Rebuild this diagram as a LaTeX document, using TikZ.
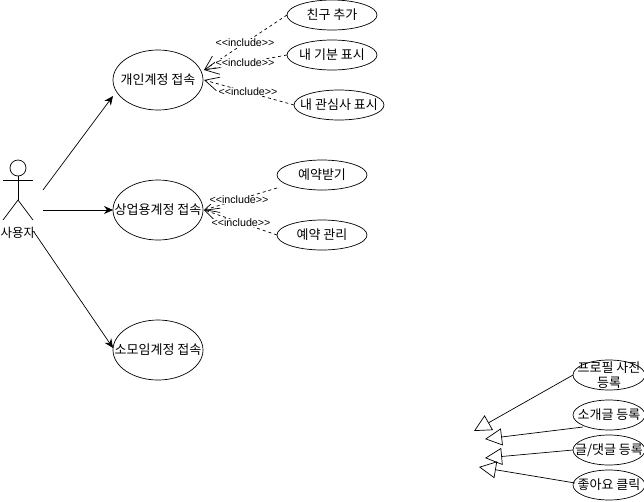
\documentclass[tikz,border=0pt]{standalone}
\usepackage{fontspec}
\setmainfont{Noto Sans CJK KR}
\newfontfamily\latinfont{Liberation Sans}
\usetikzlibrary{arrows.meta, positioning, shapes.geometric}

\begin{document}
\begin{tikzpicture}[x=1pt, y=-1pt, line width=0.7pt,
    usecase/.style={draw, ellipse, minimum width=90pt, minimum height=30pt, inner sep=0pt, outer sep=0pt},
    bigcase/.style={usecase, minimum height=60pt},
    smallcase/.style={usecase, minimum width=72pt},
    assoc/.style={-{Stealth[length=9pt, width=8pt]}},
    incl/.style={dashed, -{Straight Barb[length=14pt, width=14pt]}},
    inherit/.style={-{Triangle[open, length=17pt, width=17pt, fill=white]}},
    incllabel/.style={fill=white, inner sep=0.5pt, font=\latinfont\fontsize{10.7}{12}\selectfont},
    every label/.style={font=\fontsize{13}{15}\selectfont, align=center, inner sep=0pt}]
    \useasboundingbox (0,0) rectangle (644,501);

    % actor
    \node[draw, circle, minimum size=16pt, inner sep=0pt] (head) at (18,168) {};
    \coordinate (neck) at (18,176);
    \coordinate (hip) at (18,200);
    \coordinate (armL) at (3,180);
    \coordinate (armR) at (33,180);
    \coordinate (footL) at (3,220);
    \coordinate (footR) at (33,220);
    \draw (head) -- (hip);
    \draw (armL) -- (armR);
    \draw (footL) -- (hip) -- (footR);
    \node[font=\fontsize{12.5}{14}\selectfont, inner sep=0pt] (actor) at (18,233) {사용자};

    % main use cases
    \node[bigcase, label={center:개인계정 접속}] (personal) at (158,80) {};
    \node[bigcase, label={center:상업용계정 접속}] (business) at (158,210) {};
    \node[bigcase, label={center:소모임계정 접속}] (group) at (158,350) {};

    % included use cases
    \node[usecase, label={center:친구 추가}] (friend) at (332,15) {};
    \node[usecase, label={center:내 기분 표시}] (mood) at (332,55) {};
    \node[usecase, label={center:내 관심사 표시}] (interest) at (339,105) {};
    \node[usecase, label={center:예약받기}] (reserve) at (322,175) {};
    \node[usecase, label={center:예약 관리}] (manage) at (322,235) {};

    % loose use cases
    \node[smallcase, label={center:프로필 사진\\등록}] (photo) at (609,375) {};
    \node[smallcase, label={center:소개글 등록}] (intro) at (609,415) {};
    \node[smallcase, label={center:글/댓글 등록}] (post) at (609,450) {};
    \node[smallcase, label={center:좋아요 클릭}] (like) at (609,485) {};

    % actor links
    \coordinate (actorA) at (43,190);
    \coordinate (actorB) at (43,210);
    \coordinate (actorC) at (34,232);
    \coordinate (personalIn) at (113,96);
    \coordinate (groupIn) at (113,348);
    \draw[assoc] (actorA) -- (personalIn);
    \draw[assoc] (actorB) -- (business.west);
    \draw[assoc] (actorC) -- (groupIn);

    % include links
    \coordinate (tipA) at (204,70);
    \coordinate (tipB) at (204,80);
    \coordinate (tipC) at (204,210);
    \coordinate (reserveOut) at (277,188);
    \draw[incl] (friend.west) -- (tipA);
    \draw[incl] (mood.west) -- (tipA);
    \draw[incl] (interest.west) -- (tipB);
    \draw[incl] (reserveOut) -- (tipC);
    \draw[incl] (manage.west) -- (tipC);
    \node[incllabel] (inclA) at (245,43) {<<include>>};
    \node[incllabel] (inclB) at (245,63) {<<include>>};
    \node[incllabel] (inclC) at (248,92) {<<include>>};
    \node[incllabel] (inclD) at (239,200) {<<include>>};
    \node[incllabel] (inclE) at (241,223) {<<include>>};

    % open triangle links, free ends
    \coordinate (photoTo) at (474,431);
    \coordinate (introTo) at (485,439);
    \coordinate (postTo) at (485,458);
    \coordinate (likeTo) at (479,467);
    \coordinate (introOut) at (583,427);
    \coordinate (likeOut) at (575,483);
    \draw[inherit] (photo.west) -- (photoTo);
    \draw[inherit] (introOut) -- (introTo);
    \draw[inherit] (post.west) -- (postTo);
    \draw[inherit] (likeOut) -- (likeTo);
\end{tikzpicture}
\end{document}
